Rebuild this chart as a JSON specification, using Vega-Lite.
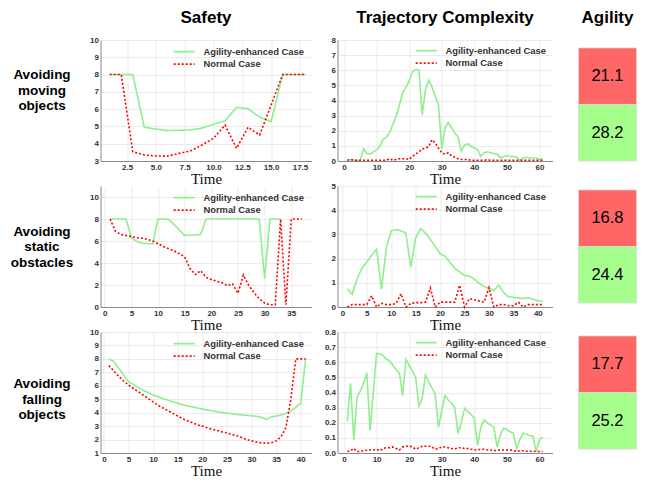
{
  "$schema": "https://vega.github.io/schema/vega-lite/v6.json",
  "padding": {"left": 9.5, "top": 0, "right": 0, "bottom": 0},
  "bounds": "flush",
  "columns": 4,
  "spacing": {"row": 25, "column": 26},
  "resolve": {"scale": {"color": "independent", "strokeDash": "independent"}},
  "config": {
    "view": {"stroke": null},
    "font": "Liberation Sans",
    "axis": {"labelFont": "Liberation Sans", "labelFontWeight": "bold", "labelFontSize": 8, "labelColor": "#333", "gridColor": "#e6e6e6", "gridWidth": 0.8, "domainColor": "#888", "ticks": false, "labelPadding": 2, "titleFont": "Liberation Serif", "titleFontSize": 15, "titleFontWeight": "normal", "titleColor": "#111", "titlePadding": 0, "labelFlush": false, "labelOverlap": false}
  },
  "datasets": {
    "s1": [
      {"t":1,"a":8,"n":8},{"t":2,"a":8,"n":8},{"t":3,"a":8,"n":3.54},{"t":4,"a":4.95,"n":3.35},{"t":5,"a":4.85,"n":3.29},{"t":6,"a":4.76,"n":3.28},{"t":7,"a":4.78,"n":3.44},{"t":8,"a":4.8,"n":3.58},{"t":9,"a":4.9,"n":3.93},{"t":10,"a":5.12,"n":4.31},{"t":11,"a":5.33,"n":5.08},{"t":12,"a":6.1,"n":3.73},{"t":13,"a":6.03,"n":4.95},{"t":14,"a":5.53,"n":4.5},{"t":15,"a":5.28,"n":6.24},{"t":16,"a":8,"n":8},{"t":17,"a":8,"n":8},{"t":18,"a":8,"n":8}
    ],
    "c1": [
      {"t":1,"a":0.05,"n":0.05},{"t":2,"a":0.1,"n":0.1},{"t":3,"a":0.05,"n":0.05},{"t":4,"a":0.05,"n":0.05},{"t":5,"a":0.05,"n":0.05},{"t":6,"a":0.8,"n":0.05},{"t":7,"a":0.5,"n":0.05},{"t":8,"a":0.45,"n":0.05},{"t":9,"a":0.6,"n":0.05},{"t":10,"a":0.75,"n":0.05},
      {"t":11,"a":0.95,"n":0.05},{"t":12,"a":1.45,"n":0.05},{"t":13,"a":1.55,"n":0.05},{"t":14,"a":1.9,"n":0.15},{"t":15,"a":2.4,"n":0.05},{"t":16,"a":2.95,"n":0.1},{"t":17,"a":3.7,"n":0.15},{"t":18,"a":4.5,"n":0.15},{"t":19,"a":4.85,"n":0.15},{"t":20,"a":5.3,"n":0.1},
      {"t":21,"a":5.9,"n":0.3},{"t":22,"a":6.05,"n":0.45},{"t":23,"a":6.0,"n":0.6},{"t":24,"a":3.05,"n":0.8},{"t":25,"a":4.7,"n":0.85},{"t":26,"a":5.35,"n":0.95},{"t":27,"a":4.9,"n":1.4},{"t":28,"a":4.3,"n":1.2},{"t":29,"a":3.7,"n":0.85},{"t":30,"a":0.8,"n":0.55},
      {"t":31,"a":2.2,"n":0.45},{"t":32,"a":2.55,"n":0.55},{"t":33,"a":2.2,"n":0.35},{"t":34,"a":1.85,"n":0.25},{"t":35,"a":1.6,"n":0.15},{"t":36,"a":0.65,"n":0.1},{"t":37,"a":1.05,"n":0.1},{"t":38,"a":1.15,"n":0.1},{"t":39,"a":0.95,"n":0.05},{"t":40,"a":0.85,"n":0.05},
      {"t":41,"a":0.75,"n":0.05},{"t":42,"a":0.3,"n":0.05},{"t":43,"a":0.55,"n":0.05},{"t":44,"a":0.6,"n":0.08},{"t":45,"a":0.55,"n":0.05},{"t":46,"a":0.5,"n":0.05},{"t":47,"a":0.45,"n":0.05},{"t":48,"a":0.2,"n":0.05},{"t":49,"a":0.3,"n":0.05},{"t":50,"a":0.35,"n":0.05},
      {"t":51,"a":0.3,"n":0.05},{"t":52,"a":0.3,"n":0.05},{"t":53,"a":0.25,"n":0.05},{"t":54,"a":0.05,"n":0.05},{"t":55,"a":0.2,"n":0.05},{"t":56,"a":0.25,"n":0.05},{"t":57,"a":0.2,"n":0.05},{"t":58,"a":0.2,"n":0.05},{"t":59,"a":0.2,"n":0.05},{"t":60,"a":0.1,"n":0.05},{"t":61,"a":0.15,"n":0.05}
    ],
    "s2": [
      {"t":1,"a":8,"n":8},{"t":2,"a":8,"n":6.9},{"t":3,"a":8,"n":6.6},{"t":4,"a":8,"n":6.5},{"t":5,"a":6.3,"n":6.4},{"t":6,"a":5.95,"n":6.3},{"t":7,"a":5.8,"n":6.25},{"t":8,"a":5.75,"n":6.15},{"t":9,"a":5.75,"n":6.0},{"t":10,"a":8,"n":5.75},
      {"t":11,"a":8,"n":5.5},{"t":12,"a":7.95,"n":5.3},{"t":13,"a":7.5,"n":5.1},{"t":14,"a":7.0,"n":4.85},{"t":15,"a":6.5,"n":4.55},{"t":16,"a":6.55,"n":3.5},{"t":17,"a":6.55,"n":2.95},{"t":18,"a":6.6,"n":3.3},{"t":19,"a":8,"n":2.7},{"t":20,"a":8,"n":2.5},
      {"t":21,"a":8,"n":2.35},{"t":22,"a":8,"n":2.2},{"t":23,"a":8,"n":1.95},{"t":24,"a":8,"n":2.1},{"t":25,"a":8,"n":1.25},{"t":26,"a":8,"n":2.9},{"t":27,"a":8,"n":2.0},{"t":28,"a":8,"n":1.3},{"t":29,"a":8,"n":0.75},{"t":30,"a":2.6,"n":0.35},
      {"t":31,"a":8,"n":0.2},{"t":32,"a":8,"n":0.2},{"t":33,"a":8,"n":8},{"t":34,"n":0.2},{"t":35,"n":8},{"t":36,"n":8},{"t":37,"n":8}
    ],
    "c2": [
      {"t":1,"a":0.75,"n":0},{"t":2,"a":0.53,"n":0.1},{"t":3,"a":1.15,"n":0.1},{"t":4,"a":1.6,"n":0.1},{"t":5,"a":1.85,"n":0.1},{"t":6,"a":2.15,"n":0.46},{"t":7,"a":2.39,"n":0},{"t":8,"a":0.74,"n":0.15},{"t":9,"a":2.45,"n":0.1},{"t":10,"a":3.15,"n":0.1},
      {"t":11,"a":3.2,"n":0.15},{"t":12,"a":3.15,"n":0.55},{"t":13,"a":3.05,"n":0},{"t":14,"a":1.64,"n":0.15},{"t":15,"a":2.85,"n":0.18},{"t":16,"a":3.24,"n":0.18},{"t":17,"a":3.05,"n":0.2},{"t":18,"a":2.8,"n":0.79},{"t":19,"a":2.5,"n":0},{"t":20,"a":2.2,"n":0.2},
      {"t":21,"a":2.1,"n":0.2},{"t":22,"a":1.85,"n":0.2},{"t":23,"a":1.6,"n":0.2},{"t":24,"a":1.45,"n":0.9},{"t":25,"a":1.3,"n":0},{"t":26,"a":1.28,"n":0.35},{"t":27,"a":1.15,"n":0.3},{"t":28,"a":0.98,"n":0.25},{"t":29,"a":0.85,"n":0.2},{"t":30,"a":0.78,"n":0.8},
      {"t":31,"a":0.68,"n":0},{"t":32,"a":0.9,"n":0.1},{"t":33,"a":0.6,"n":0.1},{"t":34,"a":0.42,"n":0.05},{"t":35,"a":0.4,"n":0.05},{"t":36,"a":0.37,"n":0.2},{"t":37,"a":0.35,"n":0},{"t":38,"a":0.38,"n":0.1},{"t":39,"a":0.32,"n":0.1},{"t":40,"a":0.25,"n":0.1},{"t":41,"a":0.25,"n":0.1}
    ],
    "s3": [
      {"t":1,"a":8.0,"n":7.5},{"t":2,"a":7.8,"n":7.1},{"t":3,"a":7.3,"n":6.7},{"t":4,"a":6.8,"n":6.35},{"t":5,"a":6.3,"n":6.05},{"t":6,"a":6.1,"n":5.8},{"t":7,"a":5.85,"n":5.55},{"t":8,"a":5.65,"n":5.3},{"t":9,"a":5.5,"n":5.05},{"t":10,"a":5.3,"n":4.8},
      {"t":11,"a":5.18,"n":4.55},{"t":12,"a":5.05,"n":4.35},{"t":13,"a":4.93,"n":4.15},{"t":14,"a":4.82,"n":3.95},{"t":15,"a":4.7,"n":3.75},{"t":16,"a":4.6,"n":3.55},{"t":17,"a":4.5,"n":3.4},{"t":18,"a":4.43,"n":3.25},{"t":19,"a":4.35,"n":3.1},{"t":20,"a":4.27,"n":3.0},
      {"t":21,"a":4.2,"n":2.88},{"t":22,"a":4.13,"n":2.77},{"t":23,"a":4.07,"n":2.67},{"t":24,"a":4.02,"n":2.57},{"t":25,"a":3.97,"n":2.5},{"t":26,"a":3.92,"n":2.38},{"t":27,"a":3.87,"n":2.28},{"t":28,"a":3.83,"n":2.15},{"t":29,"a":3.8,"n":2.0},{"t":30,"a":3.77,"n":1.9},
      {"t":31,"a":3.73,"n":1.82},{"t":32,"a":3.65,"n":1.75},{"t":33,"a":3.5,"n":1.73},{"t":34,"a":3.68,"n":1.75},{"t":35,"a":3.75,"n":1.9},{"t":36,"a":3.82,"n":2.2},{"t":37,"a":3.95,"n":2.9},{"t":38,"a":4.15,"n":5.0},{"t":39,"a":4.4,"n":8.0},{"t":40,"a":4.7,"n":8.0},{"t":41,"a":8.0,"n":8.0}
    ],
    "c3": [
      {"t":1,"a":0.21,"n":0.01},{"t":2,"a":0.46,"n":0.015},{"t":3,"a":0.086,"n":0.03},{"t":4,"a":0.37,"n":0.01},{"t":5,"a":0.41,"n":0.01},{"t":6,"a":0.46,"n":0.015},{"t":7,"a":0.53,"n":0.018},{"t":8,"a":0.15,"n":0.02},{"t":9,"a":0.4,"n":0.02},{"t":10,"a":0.66,"n":0.025},
      {"t":11,"a":0.655,"n":0.015},{"t":12,"a":0.645,"n":0.03},{"t":13,"a":0.62,"n":0.035},{"t":14,"a":0.61,"n":0.035},{"t":15,"a":0.58,"n":0.04},{"t":16,"a":0.55,"n":0.03},{"t":17,"a":0.53,"n":0.02},{"t":18,"a":0.38,"n":0.04},{"t":19,"a":0.62,"n":0.045},{"t":20,"a":0.58,"n":0.045},
      {"t":21,"a":0.54,"n":0.04},{"t":22,"a":0.5,"n":0.025},{"t":23,"a":0.31,"n":0.035},{"t":24,"a":0.36,"n":0.045},{"t":25,"a":0.515,"n":0.045},{"t":26,"a":0.47,"n":0.045},{"t":27,"a":0.43,"n":0.04},{"t":28,"a":0.39,"n":0.025},{"t":29,"a":0.17,"n":0.03},{"t":30,"a":0.28,"n":0.04},
      {"t":31,"a":0.38,"n":0.04},{"t":32,"a":0.35,"n":0.035},{"t":33,"a":0.33,"n":0.03},{"t":34,"a":0.3,"n":0.025},{"t":35,"a":0.13,"n":0.035},{"t":36,"a":0.2,"n":0.035},{"t":37,"a":0.295,"n":0.03},{"t":38,"a":0.275,"n":0.03},{"t":39,"a":0.255,"n":0.025},{"t":40,"a":0.23,"n":0.02},
      {"t":41,"a":0.05,"n":0.02},{"t":42,"a":0.17,"n":0.025},{"t":43,"a":0.22,"n":0.025},{"t":44,"a":0.2,"n":0.02},{"t":45,"a":0.185,"n":0.02},{"t":46,"a":0.17,"n":0.015},{"t":47,"a":0.04,"n":0.02},{"t":48,"a":0.12,"n":0.02},{"t":49,"a":0.165,"n":0.02},{"t":50,"a":0.155,"n":0.02},
      {"t":51,"a":0.14,"n":0.02},{"t":52,"a":0.13,"n":0.015},{"t":53,"a":0.03,"n":0.01},{"t":54,"a":0.09,"n":0.015},{"t":55,"a":0.13,"n":0.015},{"t":56,"a":0.125,"n":0.012},{"t":57,"a":0.115,"n":0.012},{"t":58,"a":0.11,"n":0.012},{"t":59,"a":0.01,"n":0.01},{"t":60,"a":0.09,"n":0.01},{"t":61,"a":0.105,"n":0.01}
    ]
  },
  "concat": [
    {"width": 65, "height": 15, "data": {"values": [{"h": ""}]}, "mark": {"type": "text"}, "encoding": {"text": {"field": "h"}}},
    {"width": 211, "height": 15, "data": {"values": [{"h": "Safety"}]}, "mark": {"type": "text", "fontSize": 17, "fontWeight": "bold", "dy": 10.5, "color": "#000"}, "encoding": {"text": {"field": "h"}}},
    {"width": 215, "height": 15, "data": {"values": [{"h": "Trajectory Complexity"}]}, "mark": {"type": "text", "fontSize": 17, "fontWeight": "bold", "dy": 10.5, "color": "#000"}, "encoding": {"text": {"field": "h"}}},
    {"width": 58, "height": 15, "data": {"values": [{"h": "Agility"}]}, "mark": {"type": "text", "fontSize": 17, "fontWeight": "bold", "dy": 10.5, "color": "#000"}, "encoding": {"text": {"field": "h"}}},

    {"width": 65, "height": 121, "data": {"values": [{"h": "Avoiding\nmoving\nobjects"}]}, "mark": {"type": "text", "lineBreak": "\n", "fontSize": 13.5, "fontWeight": "bold", "lineHeight": 15.5, "dy": -25.5, "color": "#000"}, "encoding": {"text": {"field": "h"}}},
    {"width": 211, "height": 121, "data": {"name": "s1"}, "transform": [{"fold": ["a", "n"], "as": ["k", "v"]}],
     "mark": {"type": "line", "strokeWidth": 1.6},
     "encoding": {
       "x": {"field": "t", "type": "quantitative", "scale": {"domain": [0.2, 18.5], "nice": false, "zero": false}, "axis": {"values": [2.5, 5, 7.5, 10, 12.5, 15, 17.5], "format": ".1f", "title": "Time"}},
       "y": {"field": "v", "type": "quantitative", "scale": {"domain": [3, 10], "nice": false, "zero": false}, "axis": {"values": [3, 4, 5, 6, 7, 8, 9, 10], "title": null}},
       "color": {"field": "k", "type": "nominal", "scale": {"domain": ["a", "n"], "range": ["#90ee90", "#ff0000"]}, "legend": {"title": null, "labelExpr": "datum.value == 'a' ? 'Agility-enhanced Case' : 'Normal Case'", "symbolType": "M-3,0H3", "symbolSize": 49, "symbolStrokeWidth": 1.8, "labelOffset": 14.5, "orient": "top-right", "offset": 7, "padding": 0, "rowPadding": 1.5, "labelFontSize": 9.4, "labelFontWeight": "bold", "labelColor": "#333", "labelFont": "Liberation Sans"}},
       "strokeDash": {"field": "k", "type": "nominal", "scale": {"domain": ["a", "n"], "range": [[1, 0], [2, 2]]}, "legend": {"title": null, "labelExpr": "datum.value == 'a' ? 'Agility-enhanced Case' : 'Normal Case'", "symbolType": "M-3,0H3", "symbolSize": 49, "symbolStrokeWidth": 1.8, "labelOffset": 14.5, "orient": "top-right", "offset": 7, "padding": 0, "rowPadding": 1.5, "labelFontSize": 9.4, "labelFontWeight": "bold", "labelColor": "#333", "labelFont": "Liberation Sans"}}
     }},
    {"width": 215, "height": 121, "data": {"name": "c1"}, "transform": [{"fold": ["a", "n"], "as": ["k", "v"]}],
     "mark": {"type": "line", "strokeWidth": 1.6},
     "encoding": {
       "x": {"field": "t", "type": "quantitative", "scale": {"domain": [-2, 64], "nice": false, "zero": false}, "axis": {"values": [0, 10, 20, 30, 40, 50, 60], "title": "Time"}},
       "y": {"field": "v", "type": "quantitative", "scale": {"domain": [0, 8], "nice": false}, "axis": {"values": [0, 1, 2, 3, 4, 5, 6, 7, 8], "title": null}},
       "color": {"field": "k", "type": "nominal", "scale": {"domain": ["a", "n"], "range": ["#90ee90", "#ff0000"]}, "legend": {"title": null, "labelExpr": "datum.value == 'a' ? 'Agility-enhanced Case' : 'Normal Case'", "symbolType": "M-3,0H3", "symbolSize": 49, "symbolStrokeWidth": 1.8, "labelOffset": 14.5, "orient": "top-right", "offset": 6, "padding": 0, "rowPadding": 1.5, "labelFontSize": 9.4, "labelFontWeight": "bold", "labelColor": "#333", "labelFont": "Liberation Sans"}},
       "strokeDash": {"field": "k", "type": "nominal", "scale": {"domain": ["a", "n"], "range": [[1, 0], [2, 2]]}, "legend": {"title": null, "labelExpr": "datum.value == 'a' ? 'Agility-enhanced Case' : 'Normal Case'", "symbolType": "M-3,0H3", "symbolSize": 49, "symbolStrokeWidth": 1.8, "labelOffset": 14.5, "orient": "top-right", "offset": 6, "padding": 0, "rowPadding": 1.5, "labelFontSize": 9.4, "labelFontWeight": "bold", "labelColor": "#333", "labelFont": "Liberation Sans"}}
     }},
    {"width": 58, "height": 121, "data": {"values": [{"c": "n", "v": 21.1}, {"c": "a", "v": 28.2}]},
     "encoding": {"y": {"field": "c", "type": "nominal", "sort": ["n", "a"], "scale": {"paddingInner": 0, "paddingOuter": 0.07, "align": 1}, "axis": null}},
     "layer": [
       {"mark": {"type": "rect", "stroke": "#d8d8d8", "strokeWidth": 0.8}, "encoding": {"color": {"field": "c", "type": "nominal", "scale": {"domain": ["n", "a"], "range": ["#ff6666", "#a6ff8c"]}, "legend": null}}},
       {"mark": {"type": "text", "fontSize": 16.5, "color": "#000"}, "encoding": {"text": {"field": "v", "type": "quantitative", "format": ".1f"}}}
     ]},

    {"width": 65, "height": 121, "data": {"values": [{"h": "Avoiding\nstatic\nobstacles"}]}, "mark": {"type": "text", "lineBreak": "\n", "fontSize": 13.5, "fontWeight": "bold", "lineHeight": 15.5, "dy": -15, "color": "#000"}, "encoding": {"text": {"field": "h"}}},
    {"width": 211, "height": 121, "data": {"name": "s2"}, "transform": [{"fold": ["a", "n"], "as": ["k", "v"]}],
     "mark": {"type": "line", "strokeWidth": 1.6},
     "encoding": {
       "x": {"field": "t", "type": "quantitative", "scale": {"domain": [-0.8, 38.8], "nice": false, "zero": false}, "axis": {"values": [0, 5, 10, 15, 20, 25, 30, 35], "title": "Time"}},
       "y": {"field": "v", "type": "quantitative", "scale": {"domain": [0, 11], "nice": false}, "axis": {"values": [0, 2, 4, 6, 8, 10], "title": null}},
       "color": {"field": "k", "type": "nominal", "scale": {"domain": ["a", "n"], "range": ["#90ee90", "#ff0000"]}, "legend": {"title": null, "labelExpr": "datum.value == 'a' ? 'Agility-enhanced Case' : 'Normal Case'", "symbolType": "M-3,0H3", "symbolSize": 49, "symbolStrokeWidth": 1.8, "labelOffset": 14.5, "orient": "top-right", "offset": 7, "padding": 0, "rowPadding": 1.5, "labelFontSize": 9.4, "labelFontWeight": "bold", "labelColor": "#333", "labelFont": "Liberation Sans"}},
       "strokeDash": {"field": "k", "type": "nominal", "scale": {"domain": ["a", "n"], "range": [[1, 0], [2, 2]]}, "legend": {"title": null, "labelExpr": "datum.value == 'a' ? 'Agility-enhanced Case' : 'Normal Case'", "symbolType": "M-3,0H3", "symbolSize": 49, "symbolStrokeWidth": 1.8, "labelOffset": 14.5, "orient": "top-right", "offset": 7, "padding": 0, "rowPadding": 1.5, "labelFontSize": 9.4, "labelFontWeight": "bold", "labelColor": "#333", "labelFont": "Liberation Sans"}}
     }},
    {"width": 215, "height": 121, "data": {"name": "c2"}, "transform": [{"fold": ["a", "n"], "as": ["k", "v"]}],
     "mark": {"type": "line", "strokeWidth": 1.6},
     "encoding": {
       "x": {"field": "t", "type": "quantitative", "scale": {"domain": [-1, 43], "nice": false, "zero": false}, "axis": {"values": [0, 5, 10, 15, 20, 25, 30, 35, 40], "title": "Time"}},
       "y": {"field": "v", "type": "quantitative", "scale": {"domain": [0, 5], "nice": false}, "axis": {"values": [0, 1, 2, 3, 4, 5], "title": null}},
       "color": {"field": "k", "type": "nominal", "scale": {"domain": ["a", "n"], "range": ["#90ee90", "#ff0000"]}, "legend": {"title": null, "labelExpr": "datum.value == 'a' ? 'Agility-enhanced Case' : 'Normal Case'", "symbolType": "M-3,0H3", "symbolSize": 49, "symbolStrokeWidth": 1.8, "labelOffset": 14.5, "orient": "top-right", "offset": 6, "padding": 0, "rowPadding": 1.5, "labelFontSize": 9.4, "labelFontWeight": "bold", "labelColor": "#333", "labelFont": "Liberation Sans"}},
       "strokeDash": {"field": "k", "type": "nominal", "scale": {"domain": ["a", "n"], "range": [[1, 0], [2, 2]]}, "legend": {"title": null, "labelExpr": "datum.value == 'a' ? 'Agility-enhanced Case' : 'Normal Case'", "symbolType": "M-3,0H3", "symbolSize": 49, "symbolStrokeWidth": 1.8, "labelOffset": 14.5, "orient": "top-right", "offset": 6, "padding": 0, "rowPadding": 1.5, "labelFontSize": 9.4, "labelFontWeight": "bold", "labelColor": "#333", "labelFont": "Liberation Sans"}}
     }},
    {"width": 58, "height": 121, "data": {"values": [{"c": "n", "v": 16.8}, {"c": "a", "v": 24.4}]},
     "encoding": {"y": {"field": "c", "type": "nominal", "sort": ["n", "a"], "scale": {"paddingInner": 0, "paddingOuter": 0.07}, "axis": null}},
     "layer": [
       {"mark": {"type": "rect", "stroke": "#d8d8d8", "strokeWidth": 0.8}, "encoding": {"color": {"field": "c", "type": "nominal", "scale": {"domain": ["n", "a"], "range": ["#ff6666", "#a6ff8c"]}, "legend": null}}},
       {"mark": {"type": "text", "fontSize": 16.5, "color": "#000"}, "encoding": {"text": {"field": "v", "type": "quantitative", "format": ".1f"}}}
     ]},

    {"width": 65, "height": 121, "data": {"values": [{"h": "Avoiding\nfalling\nobjects"}]}, "mark": {"type": "text", "lineBreak": "\n", "fontSize": 13.5, "fontWeight": "bold", "lineHeight": 15.5, "dy": -8.5, "color": "#000"}, "encoding": {"text": {"field": "h"}}},
    {"width": 211, "height": 121, "data": {"name": "s3"}, "transform": [{"fold": ["a", "n"], "as": ["k", "v"]}],
     "mark": {"type": "line", "strokeWidth": 1.6},
     "encoding": {
       "x": {"field": "t", "type": "quantitative", "scale": {"domain": [-0.7, 42.2], "nice": false, "zero": false}, "axis": {"values": [0, 5, 10, 15, 20, 25, 30, 35, 40], "title": "Time"}},
       "y": {"field": "v", "type": "quantitative", "scale": {"domain": [1, 10], "nice": false, "zero": false}, "axis": {"values": [1, 2, 3, 4, 5, 6, 7, 8, 9, 10], "title": null}},
       "color": {"field": "k", "type": "nominal", "scale": {"domain": ["a", "n"], "range": ["#90ee90", "#ff0000"]}, "legend": {"title": null, "labelExpr": "datum.value == 'a' ? 'Agility-enhanced Case' : 'Normal Case'", "symbolType": "M-3,0H3", "symbolSize": 49, "symbolStrokeWidth": 1.8, "labelOffset": 14.5, "orient": "top-right", "offset": 7, "padding": 0, "rowPadding": 1.5, "labelFontSize": 9.4, "labelFontWeight": "bold", "labelColor": "#333", "labelFont": "Liberation Sans"}},
       "strokeDash": {"field": "k", "type": "nominal", "scale": {"domain": ["a", "n"], "range": [[1, 0], [2, 2]]}, "legend": {"title": null, "labelExpr": "datum.value == 'a' ? 'Agility-enhanced Case' : 'Normal Case'", "symbolType": "M-3,0H3", "symbolSize": 49, "symbolStrokeWidth": 1.8, "labelOffset": 14.5, "orient": "top-right", "offset": 7, "padding": 0, "rowPadding": 1.5, "labelFontSize": 9.4, "labelFontWeight": "bold", "labelColor": "#333", "labelFont": "Liberation Sans"}}
     }},
    {"width": 215, "height": 121, "data": {"name": "c3"}, "transform": [{"fold": ["a", "n"], "as": ["k", "v"]}],
     "mark": {"type": "line", "strokeWidth": 1.6},
     "encoding": {
       "x": {"field": "t", "type": "quantitative", "scale": {"domain": [-2, 64], "nice": false, "zero": false}, "axis": {"values": [0, 10, 20, 30, 40, 50, 60], "title": "Time"}},
       "y": {"field": "v", "type": "quantitative", "scale": {"domain": [0, 0.8], "nice": false}, "axis": {"values": [0, 0.1, 0.2, 0.3, 0.4, 0.5, 0.6, 0.7, 0.8], "format": ".1f", "title": null}},
       "color": {"field": "k", "type": "nominal", "scale": {"domain": ["a", "n"], "range": ["#90ee90", "#ff0000"]}, "legend": {"title": null, "labelExpr": "datum.value == 'a' ? 'Agility-enhanced Case' : 'Normal Case'", "symbolType": "M-3,0H3", "symbolSize": 49, "symbolStrokeWidth": 1.8, "labelOffset": 14.5, "orient": "top-right", "offset": 6, "padding": 0, "rowPadding": 1.5, "labelFontSize": 9.4, "labelFontWeight": "bold", "labelColor": "#333", "labelFont": "Liberation Sans"}},
       "strokeDash": {"field": "k", "type": "nominal", "scale": {"domain": ["a", "n"], "range": [[1, 0], [2, 2]]}, "legend": {"title": null, "labelExpr": "datum.value == 'a' ? 'Agility-enhanced Case' : 'Normal Case'", "symbolType": "M-3,0H3", "symbolSize": 49, "symbolStrokeWidth": 1.8, "labelOffset": 14.5, "orient": "top-right", "offset": 6, "padding": 0, "rowPadding": 1.5, "labelFontSize": 9.4, "labelFontWeight": "bold", "labelColor": "#333", "labelFont": "Liberation Sans"}}
     }},
    {"width": 58, "height": 121, "data": {"values": [{"c": "n", "v": 17.7}, {"c": "a", "v": 25.2}]},
     "encoding": {"y": {"field": "c", "type": "nominal", "sort": ["n", "a"], "scale": {"paddingInner": 0, "paddingOuter": 0.07}, "axis": null}},
     "layer": [
       {"mark": {"type": "rect", "stroke": "#d8d8d8", "strokeWidth": 0.8}, "encoding": {"color": {"field": "c", "type": "nominal", "scale": {"domain": ["n", "a"], "range": ["#ff6666", "#a6ff8c"]}, "legend": null}}},
       {"mark": {"type": "text", "fontSize": 16.5, "color": "#000"}, "encoding": {"text": {"field": "v", "type": "quantitative", "format": ".1f"}}}
     ]}
  ]
}
